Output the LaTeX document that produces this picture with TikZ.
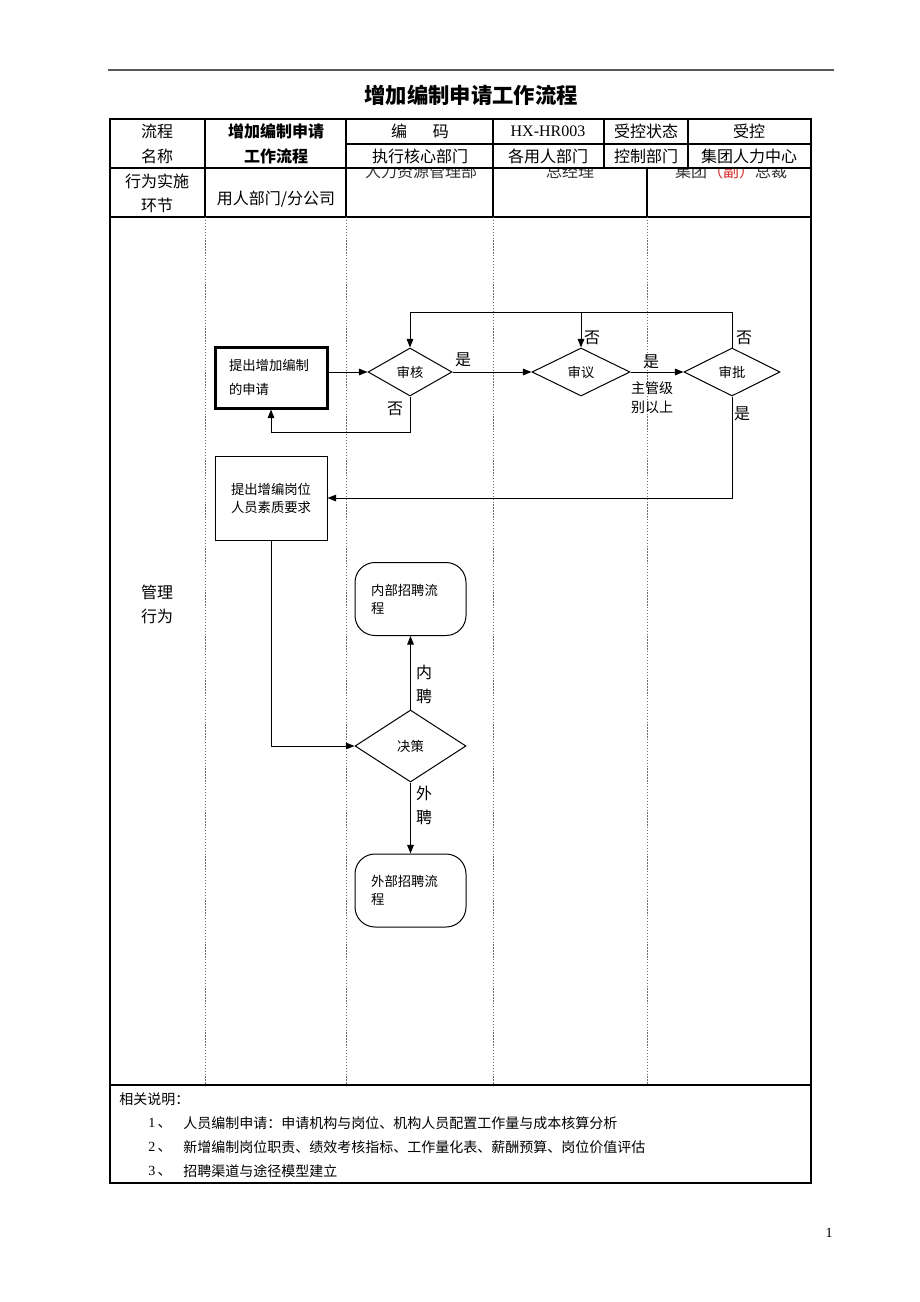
\documentclass[tikz,border=0pt]{standalone}
\usepackage{fontspec}
\setmainfont{Liberation Serif}
\newfontfamily\cjk{Noto Sans CJK SC}
\usetikzlibrary{shapes.geometric,arrows.meta}
\definecolor{dotgray}{RGB}{110,110,110}
\definecolor{redf}{RGB}{215,45,45}
\definecolor{rulegray}{RGB}{90,90,90}
\begin{document}
\begin{tikzpicture}[x=0.75pt,y=-0.75pt,
  every node/.style={inner sep=0pt,font=\cjk\fontsize{12}{14}\selectfont},
  tline/.style={line width=0.8pt},
  lane/.style={dotgray,line width=0.5pt,dash pattern=on 1pt off 1.2pt},
  conn/.style={line width=0.75pt,-{Triangle[length=6.5pt,width=5pt]}},
  dec/.style={draw,diamond,line width=0.75pt,inner sep=0pt,font=\cjk\fontsize{10}{12}\selectfont},
  proc/.style={draw,rectangle,line width=0.75pt},
  term/.style={draw,rectangle,rounded corners=15pt,line width=0.75pt},
  lab/.style={font=\cjk\fontsize{12}{14}\selectfont},
  note/.style={anchor=west,font=\cjk\fontsize{10.5}{12}\selectfont},
]
\useasboundingbox[fill=white] (0,0) rectangle (920,1302);

% top rule and title
\draw[line width=1.5pt,rulegray] (108,70) -- (834,70);
\node[font=\cjk\bfseries\fontsize{16}{18}\selectfont] (title) at (471,95) {增加编制申请工作流程};

% clipped header texts
\begin{scope}
\clip (110,168) rectangle (811,217);
\node[text=black!80] (rl1) at (421,171) {人力资源管理部};
\node[text=black!80] (rl2) at (570,171) {总经理};
\node[text=black!80] (rl3) at (731,171) {集团{\color{redf}（副）}总裁};
\end{scope}

% table frame
\draw[tline] (110,119) rectangle (811,1183);
\draw[tline] (346,144) -- (811,144);
\draw[tline] (110,168) -- (811,168);
\draw[tline] (110,217) -- (811,217);
\draw[tline] (110,1085) -- (811,1085);
\draw[tline] (205,119) -- (205,217);
\draw[tline] (346,119) -- (346,217);
\draw[tline] (493,119) -- (493,217);
\draw[tline] (604,119) -- (604,168);
\draw[tline] (688,119) -- (688,168);
\draw[tline] (647,168) -- (647,217);
% lane separators
\draw[lane] (205,217) -- (205,1085);
\draw[lane] (346,217) -- (346,1085);
\draw[lane] (493,217) -- (493,1085);
\draw[lane] (647,217) -- (647,1085);

% header texts
\node[align=center,font=\cjk\fontsize{12}{18.75}\selectfont] (h1) at (157,143.5) {流程\\名称};
\node[align=center,font=\cjk\bfseries\fontsize{12}{18.75}\selectfont] (h2) at (276,143.5) {增加编制申请\\工作流程};
\node (h3) at (420,131) {编\hspace{1.6em}码};
\node[font=\rmfamily\fontsize{12}{14}\selectfont] (h4) at (548,131) {HX-HR003};
\node (h5) at (646,131) {受控状态};
\node (h6) at (749,131) {受控};
\node (h7) at (420,156) {执行核心部门};
\node (h8) at (548,156) {各用人部门};
\node (h9) at (646,156) {控制部门};
\node (h10) at (749,156) {集团人力中心};
\node[align=center,font=\cjk\fontsize{12}{18}\selectfont] (h11) at (157,193) {行为实施\\环节};
\node (h12) at (276,199) {用人部门/分公司};
\node[align=center,font=\cjk\fontsize{12}{18}\selectfont] (h13) at (157,604) {管理\\行为};

% flow nodes
\node[proc,line width=2.25pt,minimum width=84pt,minimum height=45.75pt,text width=63pt,align=left,font=\cjk\fontsize{10}{18}\selectfont] (b1) at (271,377.5) {提出增加编制\\的申请};
\node[dec,minimum width=63pt,minimum height=36pt] (sh) at (410,372) {审核};
\node[dec,minimum width=73.5pt,minimum height=36pt] (sy) at (581,372) {审议};
\node[dec,minimum width=72pt,minimum height=36pt] (sp) at (732,372) {审批};
\node[proc,minimum width=84pt,minimum height=63pt,align=center,font=\cjk\fontsize{10}{13.5}\selectfont] (b2) at (271,498) {提出增编岗位\\人员素质要求};
\node[dec,minimum width=83.25pt,minimum height=54pt] (jc) at (410.5,746) {决策};
\node[term,minimum width=83.25pt,minimum height=54.75pt,text width=59pt,align=left,font=\cjk\fontsize{10}{13.5}\selectfont] (nb) at (410.5,599) {内部招聘流\\程};
\node[term,minimum width=83.25pt,minimum height=54.75pt,text width=59pt,align=left,font=\cjk\fontsize{10}{13.5}\selectfont] (wb) at (410.5,890.5) {外部招聘流\\程};

% connectors
\coordinate (topy) at (0,312);
\draw[conn] (b1.east |- sh.west) -- (sh.west);
\draw[conn] (sh.east) -- (sy.west);
\draw[conn] (sy.east) -- (sp.west);
\draw[conn] (sp.north) -- (sp.north |- topy) -| (sh.north);
\draw[conn] (sy.north |- topy) -- (sy.north);
\draw[conn] (sh.south) -- ++(0,36) -| (b1.south);
\draw[conn] (sp.south) |- (b2.east);
\draw[conn] (b2.south) |- (jc.west);
\draw[conn] (jc.north) -- (nb.south);
\draw[conn] (jc.south) -- (wb.north);

% connector labels
\node[lab] (l1) at (463,360) {是};
\node[lab] (l2) at (651,362) {是};
\node[lab] (l3) at (592,338) {否};
\node[lab] (l4) at (744,338) {否};
\node[lab] (l5) at (395,409) {否};
\node[lab] (l6) at (742,414) {是};
\node[align=center,font=\cjk\fontsize{10.5}{14.25}\selectfont] (l7) at (652,397.5) {主管级\\别以上};
\node[align=center,font=\cjk\fontsize{12}{18}\selectfont] (l8) at (424,684) {内\\聘};
\node[align=center,font=\cjk\fontsize{12}{18}\selectfont] (l9) at (424,805.5) {外\\聘};

% notes
\node[note] (n0) at (119,1099) {相关说明：};
\node[note] (n1) at (148,1123) {{\normalfont 1}\,、};
\node[note] (n1t) at (183,1123) {人员编制申请：申请机构与岗位、机构人员配置工作量与成本核算分析};
\node[note] (n2) at (148,1147) {{\normalfont 2}\,、};
\node[note] (n2t) at (183,1147) {新增编制岗位职责、绩效考核指标、工作量化表、薪酬预算、岗位价值评估};
\node[note] (n3) at (148,1171) {{\normalfont 3}\,、};
\node[note] (n3t) at (183,1171) {招聘渠道与途径模型建立};

% page number
\node[font=\rmfamily\fontsize{10.5}{12}\selectfont] (pg) at (829,1233) {1};
\end{tikzpicture}
\end{document}
